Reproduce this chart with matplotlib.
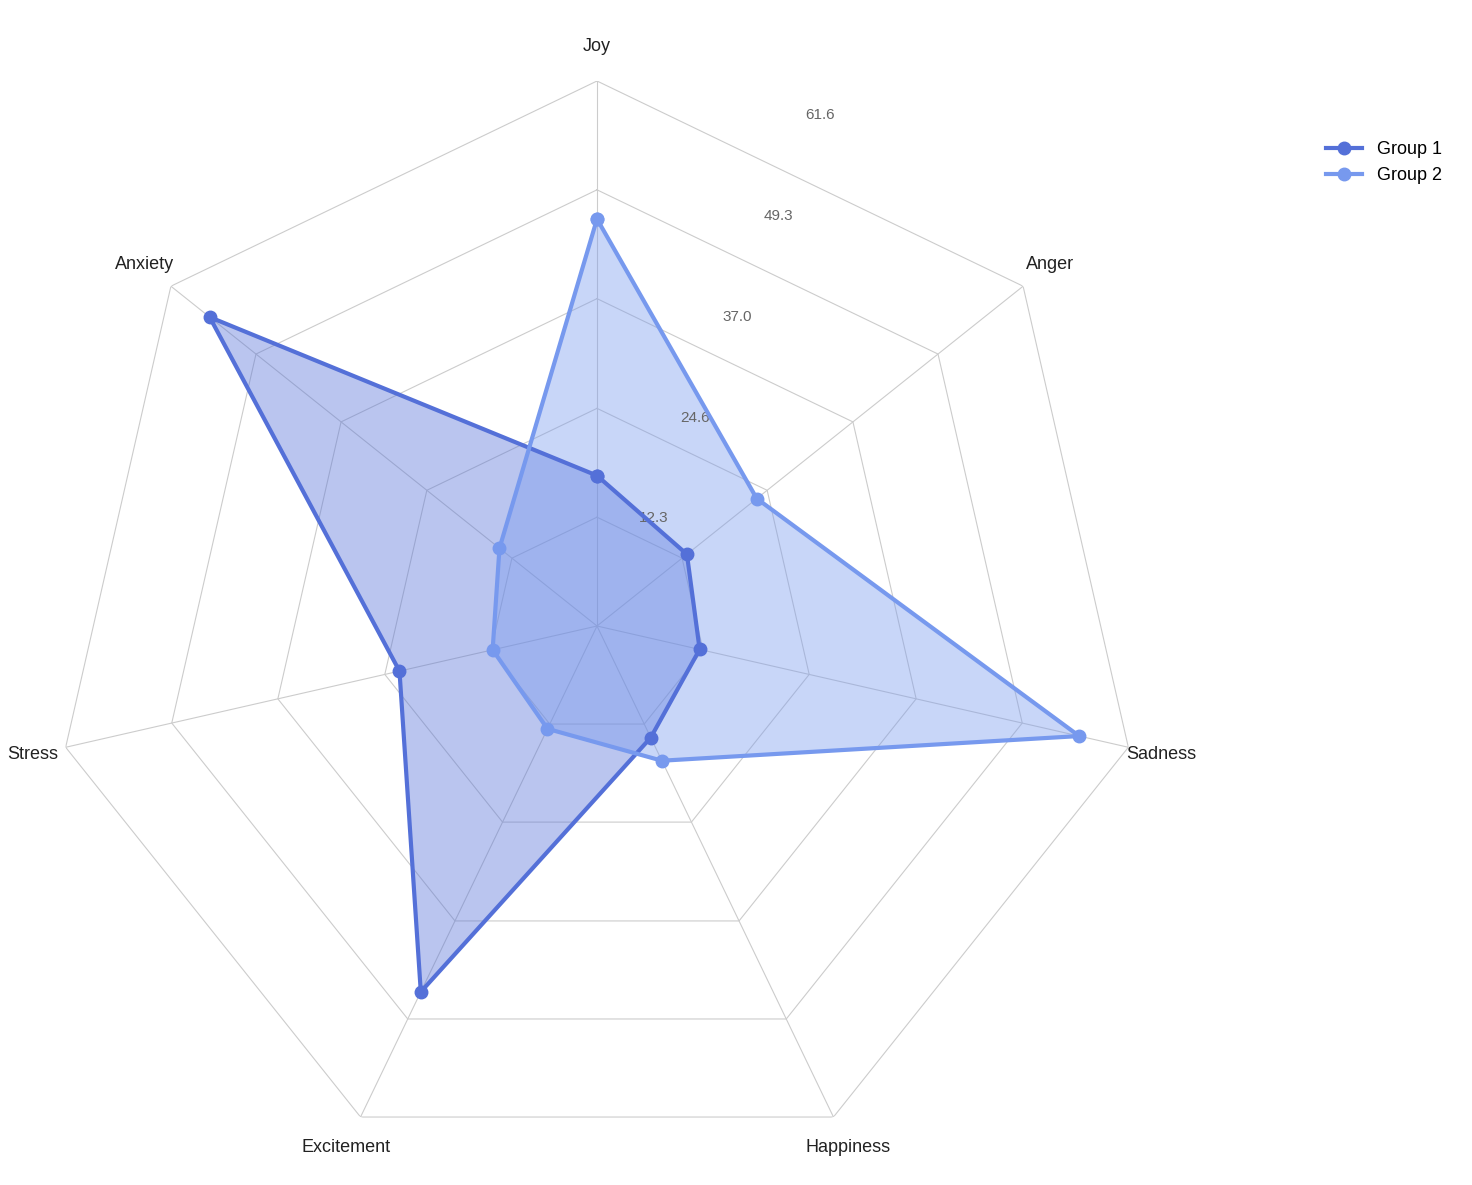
import numpy as np
import matplotlib
matplotlib.use("Agg")
import matplotlib.pyplot as plt

categories = ["Joy", "Anger", "Sadness", "Happiness", "Excitement", "Stress", "Anxiety"]
group1 = [17.0, 13.0, 11.9, 14.0, 45.9, 22.9, 56.0]
group2 = [46.0, 23.1, 55.9, 16.9, 12.9, 12.1, 14.1]
ring_values = [12.3, 24.6, 37.0, 49.3, 61.6]
rmax = 61.6

plt.rcParams['font.family'] = ['Arial', 'Liberation Sans', 'DejaVu Sans']
fig = plt.figure(figsize=(14.72, 11.85), dpi=100)
ax = fig.add_axes([52/1472, 14/1185, 1090/1472, 1090/1185], polar=True)
ax.set_theta_zero_location('N')
ax.set_theta_direction(-1)
n = len(categories)
ang = np.linspace(0, 2*np.pi, n, endpoint=False)
angc = np.concatenate([ang, ang[:1]])

ax.grid(False)
ax.spines['polar'].set_visible(False)
ax.set_ylim(0, rmax)
for r in ring_values:
    ax.plot(angc, [r]*(n+1), color='#cccccc', lw=0.8, zorder=0)
for a in ang:
    ax.plot([a, a], [0, rmax], color='#cccccc', lw=0.8, zorder=0)

c1, c2 = '#5470d8', '#7799ee'
for vals, c, lab in [(group1, c1, 'Group 1'), (group2, c2, 'Group 2')]:
    v = list(vals) + [vals[0]]
    ax.fill(angc, v, color=c, alpha=0.4, zorder=1)
    ax.plot(angc, v, color=c, lw=3, marker='o', ms=9, label=lab, zorder=2)

ax.set_xticks(ang)
ax.set_xticklabels(categories, fontsize=13, color='#222222')
ax.tick_params(axis='x', pad=14)
ax.set_yticks(ring_values)
ax.set_yticklabels([f"{r:.1f}" for r in ring_values], fontsize=11, color='#666666')
ax.set_rlabel_position(22.5)
ax.legend(loc='upper right', bbox_to_anchor=(1472/1090*0.0 + 1.29, 0.96), frameon=False, fontsize=13)
fig.savefig('out.png', dpi=100, facecolor='white')
